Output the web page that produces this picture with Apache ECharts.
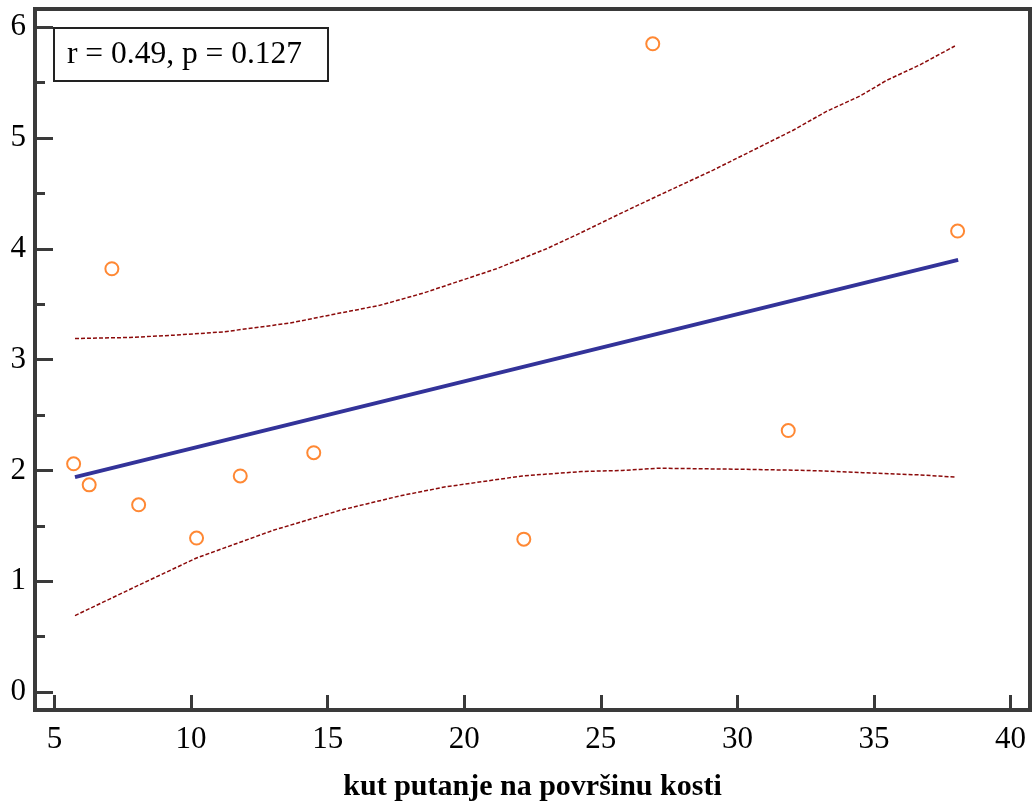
<!DOCTYPE html>
<html>
<head>
<meta charset="utf-8">
<script src="https://cdn.jsdelivr.net/npm/echarts@6/dist/echarts.min.js"></script>
<style>
html,body{margin:0;padding:0;background:#fff;}
#chart{width:1033px;height:805px;}
</style>
</head>
<body>
<div id="chart"></div>
<script>
// Observed points
const xVals = [5.70, 6.27, 7.10, 8.08, 10.20, 11.80, 14.49, 22.18, 26.90, 31.86, 38.06];
const yVals = [2.06, 1.87, 3.82, 1.69, 1.39, 1.95, 2.16, 1.38, 5.85, 2.36, 4.16];

// Regression line end points
const fitX = [5.75, 38.08];
const fitY = [1.94, 3.90];

// Upper confidence band
const upperX = [5.75, 7.76, 9.35, 11.18, 13.62, 15.45, 16.91, 18.50, 19.35, 21.18, 23.01, 24.23, 26.07, 27.28, 29.11, 30.82, 32.04, 33.26, 34.50, 35.46, 36.68, 37.96];
const upperY = [3.19, 3.20, 3.22, 3.25, 3.33, 3.42, 3.49, 3.60, 3.67, 3.82, 4.00, 4.14, 4.36, 4.50, 4.71, 4.92, 5.07, 5.24, 5.38, 5.52, 5.66, 5.83];

// Lower confidence band
const lowerX = [5.75, 8.13, 10.20, 13.01, 15.45, 17.64, 19.27, 22.12, 24.29, 25.78, 27.14, 30.25, 32.56, 34.59, 36.62, 37.96];
const lowerY = [0.69, 0.97, 1.21, 1.46, 1.64, 1.77, 1.85, 1.95, 1.99, 2.00, 2.02, 2.01, 2.00, 1.98, 1.96, 1.94];

const statText = 'r = 0.49, p = 0.127';
const xTitle = 'kut putanje na površinu kosti';

const zip = (a, b) => a.map((v, i) => [v, b[i]]);

const FONT = 'Liberation Serif';
const AX = '#3a3a3a';
const X_MIN = 4.286, X_MAX = 40.71;
const Y_MIN = -0.162, Y_MAX = 6.164;

const chart = echarts.init(document.getElementById('chart'), null, {renderer: 'canvas'});
chart.setOption({
  animation: false,
  backgroundColor: '#fff',
  title: {
    text: statText,
    left: 54, top: 28,
    padding: [10, 26, 10, 13],
    borderColor: '#222', borderWidth: 2,
    backgroundColor: '#fff',
    textStyle: {fontFamily: FONT, fontSize: 31.5, fontWeight: 'normal', color: '#000', lineHeight: 33}
  },
  grid: {
    left: 35, right: 3, top: 9, bottom: 95,
    outerBoundsMode: 'none', containLabel: false,
    show: true, borderColor: AX, borderWidth: 4, backgroundColor: 'transparent'
  },
  xAxis: {
    type: 'value', min: X_MIN, max: X_MAX,
    minInterval: 5, maxInterval: 5, splitNumber: 7,
    name: xTitle, nameLocation: 'middle', nameGap: 62,
    nameTextStyle: {fontFamily: FONT, fontSize: 30, fontWeight: 'bold', color: '#000'},
    axisLine: {show: true, onZero: false, lineStyle: {color: AX, width: 4}},
    axisTick: {show: true, inside: true, length: 15, lineStyle: {color: AX, width: 3}},
    axisLabel: {fontFamily: FONT, fontSize: 31, color: '#000', margin: 14, showMinLabel: false, showMaxLabel: false},
    splitLine: {show: false}
  },
  yAxis: [{
    type: 'value', min: Y_MIN, max: Y_MAX,
    minInterval: 1, maxInterval: 1,
    axisLine: {show: true, onZero: false, lineStyle: {color: AX, width: 4}},
    axisTick: {show: true, inside: true, length: 18, lineStyle: {color: AX, width: 3}},
    axisLabel: {fontFamily: FONT, fontSize: 31, color: '#000', margin: 9, padding: [4, 0, 0, 0], showMinLabel: false, showMaxLabel: false},
    splitLine: {show: false}
  }, {
    // minor ticks at half units: same pixel span, shifted by 0.5
    type: 'value', position: 'left', offset: 0, min: Y_MIN - 0.5, max: Y_MAX - 0.5,
    minInterval: 1, maxInterval: 1,
    axisLine: {show: false, onZero: false},
    axisTick: {show: true, inside: true, length: 10, lineStyle: {color: AX, width: 3}},
    axisLabel: {show: false},
    splitLine: {show: false}
  }],
  series: [
    {
      type: 'line', data: zip(upperX, upperY), showSymbol: false,
      lineStyle: {color: '#8b0a0a', width: 1.5, type: [4, 2]}, z: 2
    },
    {
      type: 'line', data: zip(lowerX, lowerY), showSymbol: false,
      lineStyle: {color: '#8b0a0a', width: 1.5, type: [4, 2]}, z: 2
    },
    {
      type: 'line', data: zip(fitX, fitY), showSymbol: false,
      lineStyle: {color: '#333399', width: 4}, z: 3
    },
    {
      type: 'scatter', data: zip(xVals, yVals), symbol: 'circle', symbolSize: 13,
      itemStyle: {color: 'rgba(255,255,255,0)', borderColor: '#ff6a00', borderWidth: 2}, z: 4
    }
  ]
});
</script>
</body>
</html>
